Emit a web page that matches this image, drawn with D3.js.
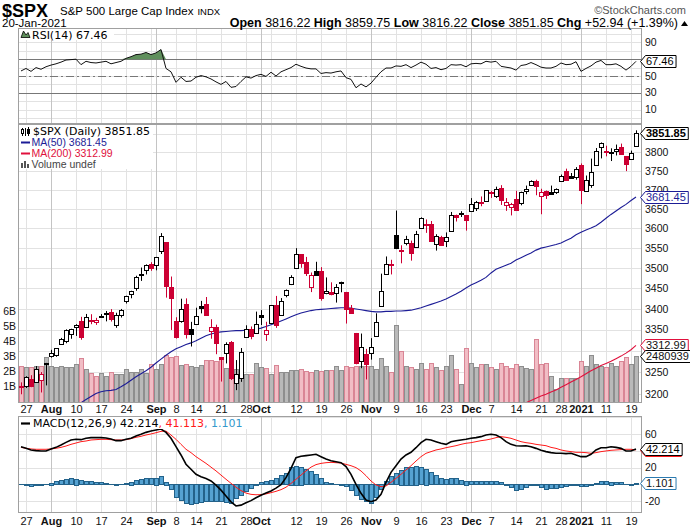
<!DOCTYPE html>
<html><head><meta charset="utf-8">
<script src="https://cdn.jsdelivr.net/npm/d3@7"></script>
<style>body{margin:0;background:#fff}svg{display:block}</style>
</head><body><svg id="c" width="690" height="528"></svg>
<script>
// ---------- DATA ----------
const dates = [
"2020-07-24","2020-07-27","2020-07-28","2020-07-29","2020-07-30","2020-07-31",
"2020-08-03","2020-08-04","2020-08-05","2020-08-06","2020-08-07","2020-08-10","2020-08-11","2020-08-12","2020-08-13","2020-08-14","2020-08-17","2020-08-18","2020-08-19","2020-08-20","2020-08-21","2020-08-24","2020-08-25","2020-08-26","2020-08-27","2020-08-28","2020-08-31",
"2020-09-01","2020-09-02","2020-09-03","2020-09-04","2020-09-08","2020-09-09","2020-09-10","2020-09-11","2020-09-14","2020-09-15","2020-09-16","2020-09-17","2020-09-18","2020-09-21","2020-09-22","2020-09-23","2020-09-24","2020-09-25","2020-09-28","2020-09-29","2020-09-30",
"2020-10-01","2020-10-02","2020-10-05","2020-10-06","2020-10-07","2020-10-08","2020-10-09","2020-10-12","2020-10-13","2020-10-14","2020-10-15","2020-10-16","2020-10-19","2020-10-20","2020-10-21","2020-10-22","2020-10-23","2020-10-26","2020-10-27","2020-10-28","2020-10-29","2020-10-30",
"2020-11-02","2020-11-03","2020-11-04","2020-11-05","2020-11-06","2020-11-09","2020-11-10","2020-11-11","2020-11-12","2020-11-13","2020-11-16","2020-11-17","2020-11-18","2020-11-19","2020-11-20","2020-11-23","2020-11-24","2020-11-25","2020-11-27","2020-11-30",
"2020-12-01","2020-12-02","2020-12-03","2020-12-04","2020-12-07","2020-12-08","2020-12-09","2020-12-10","2020-12-11","2020-12-14","2020-12-15","2020-12-16","2020-12-17","2020-12-18","2020-12-21","2020-12-22","2020-12-23","2020-12-24","2020-12-28","2020-12-29","2020-12-30","2020-12-31",
"2021-01-04","2021-01-05","2021-01-06","2021-01-07","2021-01-08","2021-01-11","2021-01-12","2021-01-13","2021-01-14","2021-01-15","2021-01-19","2021-01-20"];

const opens = [3218.58,3219.84,3234.27,3227.22,3231.76,3270.45,
3288.26,3289.92,3317.37,3323.17,3340.05,3356.04,3370.34,3355.46,3372.95,3368.66,3380.86,3387.04,3392.51,3360.48,3386.01,3418.09,3435.95,3449.97,3485.14,3494.69,3509.73,
3507.44,3543.76,3564.74,3453.60,3371.88,3369.82,3412.56,3352.70,3363.56,3407.73,3411.23,3346.86,3357.38,3285.57,3295.75,3320.11,3226.14,3236.66,3333.90,3350.92,3341.21,
3385.87,3338.94,3367.27,3408.74,3384.56,3434.28,3459.67,3500.02,3534.01,3515.47,3453.72,3493.50,3493.66,3439.38,3439.91,3438.50,3464.90,3441.42,3403.15,3342.48,3277.17,3293.59,
3296.20,3336.25,3406.46,3485.74,3508.34,3583.04,3543.26,3563.22,3562.67,3552.57,3600.16,3610.31,3612.09,3559.41,3579.31,3566.82,3594.52,3635.50,3638.55,3634.18,
3645.87,3653.78,3668.28,3670.94,3694.73,3683.05,3705.98,3659.13,3656.08,3675.27,3666.41,3696.25,3713.65,3722.39,3684.28,3698.08,3693.42,3694.03,3723.03,3750.01,3736.19,3733.27,
3764.61,3698.02,3712.20,3764.71,3815.05,3803.14,3801.62,3802.23,3814.98,3788.73,3781.88,3816.22];
const highs = [3227.26,3241.43,3243.72,3264.74,3250.92,3272.17,
3302.73,3306.84,3330.77,3351.03,3352.54,3363.29,3381.01,3387.89,3387.24,3378.51,3387.59,3395.06,3399.54,3390.80,3399.96,3432.09,3444.21,3481.07,3501.38,3509.23,3514.77,
3528.03,3588.11,3564.85,3479.15,3379.97,3424.77,3425.55,3368.95,3402.93,3419.48,3428.92,3375.17,3362.27,3285.57,3320.31,3323.35,3278.70,3306.88,3360.74,3357.92,3393.56,
3397.18,3369.10,3409.57,3431.56,3426.26,3447.28,3482.34,3549.85,3534.01,3527.94,3489.08,3515.76,3502.42,3476.93,3464.86,3460.53,3466.46,3441.42,3409.51,3342.48,3341.05,3304.93,
3330.14,3389.49,3486.25,3529.05,3520.76,3645.99,3557.22,3581.16,3569.02,3593.66,3628.51,3623.11,3619.09,3585.22,3581.23,3589.81,3642.31,3635.50,3644.31,3634.18,
3678.45,3670.96,3682.73,3699.20,3697.41,3708.45,3712.39,3678.49,3665.91,3697.61,3695.29,3711.27,3725.12,3726.70,3702.90,3698.26,3711.24,3703.82,3740.51,3756.12,3744.63,3760.20,
3769.99,3737.83,3783.04,3811.55,3826.69,3817.86,3810.78,3820.96,3823.60,3788.73,3804.53,3859.75];
const lows = [3200.05,3214.25,3216.17,3227.22,3204.13,3220.26,
3284.53,3286.37,3317.37,3318.14,3328.72,3335.44,3326.44,3355.46,3363.35,3361.64,3379.22,3370.15,3369.66,3354.69,3379.31,3413.13,3425.84,3444.15,3468.35,3484.32,3493.25,
3494.60,3535.23,3427.41,3349.63,3329.27,3366.84,3329.25,3310.47,3363.56,3389.25,3384.45,3328.82,3292.40,3229.10,3270.95,3232.57,3209.45,3228.44,3332.91,3327.54,3340.47,
3361.39,3323.69,3367.27,3354.54,3384.56,3428.15,3458.07,3499.61,3500.86,3480.55,3440.89,3480.45,3419.93,3435.65,3433.06,3415.34,3440.45,3364.86,3388.71,3268.89,3259.82,3233.94,
3279.74,3336.25,3405.17,3485.74,3484.34,3547.48,3511.91,3557.00,3518.58,3552.57,3600.16,3588.68,3567.33,3543.84,3556.85,3552.77,3594.52,3617.76,3629.33,3594.39,
3645.87,3644.84,3657.17,3670.94,3678.88,3678.83,3660.54,3645.18,3633.40,3645.84,3659.62,3688.57,3710.87,3685.84,3636.48,3676.16,3689.28,3689.32,3723.03,3723.31,3730.21,3726.88,
3662.71,3695.07,3705.34,3764.71,3783.60,3789.02,3776.51,3791.50,3792.86,3749.62,3780.37,3816.22];
const closes = [3215.63,3239.41,3218.44,3258.44,3246.22,3271.12,
3294.61,3306.51,3327.77,3349.16,3351.28,3360.47,3333.69,3380.35,3373.43,3372.85,3381.99,3389.78,3374.85,3385.51,3397.16,3431.28,3443.62,3478.73,3484.55,3508.01,3500.31,
3526.65,3580.84,3455.06,3426.96,3331.84,3398.96,3339.19,3340.97,3383.54,3401.20,3385.49,3357.01,3319.47,3281.06,3315.57,3236.92,3246.59,3298.46,3351.60,3335.47,3363.00,
3380.80,3348.42,3408.60,3360.97,3419.44,3446.83,3477.14,3534.22,3511.93,3488.67,3483.34,3483.81,3426.92,3443.12,3435.56,3453.49,3465.39,3400.97,3390.68,3271.03,3310.11,3269.96,
3310.24,3369.16,3443.44,3510.45,3509.44,3550.50,3545.53,3572.66,3537.01,3585.15,3626.91,3609.53,3567.79,3581.87,3557.54,3577.59,3635.41,3629.65,3638.35,3621.63,
3662.45,3669.01,3666.72,3699.12,3691.96,3702.25,3672.82,3668.10,3663.46,3647.49,3694.62,3701.17,3722.48,3709.41,3694.92,3687.26,3690.01,3703.06,3735.36,3727.04,3732.04,3756.07,
3700.65,3726.86,3748.14,3803.79,3824.68,3799.61,3801.19,3809.84,3795.54,3768.25,3798.91,3851.85];
const prevClose = 3235.66;

// volume, billions
const volume = [2.4,2.33,2.33,2.4,2.4,3.0,
2.4,2.33,2.4,2.33,2.33,2.5,2.87,2.2,1.9,1.7,1.9,1.7,2.0,1.8,1.85,2.2,2.0,2.0,2.2,1.9,2.5,
2.2,2.5,3.1,3.0,3.05,2.45,2.5,2.35,2.3,2.45,2.8,2.75,2.7,2.85,2.25,2.25,2.15,2.15,1.85,1.85,2.55,
2.3,2.25,1.8,2.45,2.0,2.0,2.1,2.1,2.2,2.05,2.0,2.1,2.05,2.1,2.1,2.35,2.1,2.4,2.3,2.35,2.4,2.4,
2.35,2.2,2.87,2.35,2.0,5.07,3.4,2.35,2.3,2.15,2.6,2.2,2.55,2.3,2.1,2.4,3.1,2.2,1.2,3.6,
2.6,2.3,2.5,2.5,2.3,2.2,2.6,2.4,2.25,2.5,2.4,2.25,2.15,4.2,2.5,2.6,1.7,0.85,1.6,1.6,1.55,1.6,
2.7,2.35,3.1,2.5,2.35,2.3,2.6,2.35,2.7,2.95,2.5,3.05];

const ma50Start = 12;
const ma50 = [3181,3188,3195,3202,3206,3208,3209,3211,3217,3224,3232,3240,3247,3254,3262,
3272,3281,3290,3298,3305,3310,3315,3319,3324,3330,3336,3340,3343,3345,3346,3347,3348,3348,3349,3349,3351,
3354,3358,3362,3366,3371,3376,3381,3386,3390,3393,3396,3398,3399,3400,3401,3402,3403,3403,3402,3400,3398,3396,
3394,3393,3393,3394,3394,3395,3395,3396,3397,3400,3403,3407,3411,3415,3419,3424,3430,3436,3443,3451,
3458,3464,3470,3477,3488,3497,3502,3507,3512,3520,3526,3532,3538,3545,3550,3553,3556,3559,3563,3569,3575,3584,
3590,3596,3601,3607,3616,3626,3636,3645,3654,3662,3672,3681.45];
const ma200Start = 100;
const ma200 = [3176,3181,3186,3191,3196,3200,3205,3210,3216,3222,3228,3234,
3240,3247,3254,3260,3266,3271,3276,3282,3288,3295,3303,3312.99];

const rsi = [56,59,55.5,60,58,61,
63,64.5,66.5,69,69.5,70,63.5,67.5,66,65.5,66.5,67.5,64.5,66,67.5,71,73,75.5,76,78,75.5,
77.5,81.5,59,55,42.5,48.5,43.5,44,48.5,50.5,49,46.5,43,40,43.5,36.5,37.5,43.5,49,47.5,50.5,
52,49.5,54.5,50,55,57.5,60,64,61.5,59.5,58.5,58.5,53,54,53.5,55,56,48,46,36,40.5,37,
41.5,48.5,55,59.5,59.5,62,61.5,63.5,60,63,66.5,64,59,60,57.5,59,63.5,63,63.5,61,
64.5,65,64.5,67.5,66.5,67.5,61.5,60.5,59.5,57,62.5,63.5,66,63.5,60.5,59.5,59.5,61.5,65.5,63.5,64,67,
55.5,59,62,66.5,68.5,63.5,63.5,64.5,61.5,57,61.5,67.46];

const macd = [44.9,43,41,40.2,39.8,39.8,
42.2,44.1,46.9,50.1,52.9,53.7,53.3,54.9,55.7,55.7,55.7,55.3,54.1,52.1,52.1,53.7,54.9,57.7,59.7,62,63.6,
64.8,66,62,54.9,44.9,35,24,18,12,9,7,4,-1,-7,-14,-21,-25.9,-24.9,-22,-19.5,-16,
-13,-10.5,-8,-4.5,-0.5,7.9,19.1,31.8,33.4,34.2,35,35.8,33,30.2,28.2,27,25.8,21.1,11.9,0,-10.8,-18.7,
-20.7,-18.7,-12,2.3,14.3,22.2,30.2,35,38.2,43.7,49.7,53.7,52.9,50.9,48.9,47.7,50.9,52.1,52.9,53.7,
54.9,55.7,56.9,58.9,59.7,58.9,55.7,50.9,47.7,46.1,45.7,46.1,44.9,42.9,40.6,39,37.8,37,37,36.6,37,35,
33,33,35.8,41,43.7,43.7,44.9,44.1,42.9,39.8,39.8,42.214];
const signal = [44.1,43,42.2,41.8,41.8,41.8,
42.2,43,44.1,45.7,47.7,49.3,50.9,51.7,52.9,53.3,53.7,53.7,53.3,52.9,52.9,53.3,54.5,56.1,57.3,58.9,60.1,
61.6,63.2,63.6,58.8,53.7,47.7,41.8,37.8,33,29,25,20.5,16,11,6,1.2,-3.5,-7.5,-10.5,-12,-12.5,
-12.3,-11.5,-10,-8.4,-6.4,-3.5,1,6,11,16,20.5,23.5,25,25.8,26.2,25.8,25.4,23.8,22.2,19.9,15.9,10.3,
3.9,-0.8,-2.8,-2,2.3,7.1,11.9,17.1,22.2,27.8,33,37,39,41,42.2,43.7,44.9,46.1,47.7,49,
49.7,50.9,52.1,52.9,54.1,55.7,56.9,56.1,54.9,52.9,50.9,49.7,48.9,47.7,46.9,46.1,44.1,42.9,41,39.8,39,38.2,
38.2,37.8,37,37.8,39,39.8,40.6,41,41.4,41.8,41.8,41.113];
const hist = [0.4,-1.6,-2,-1.6,-1.2,0,
2,3.5,5.1,6.3,7.1,6.7,5.1,3.9,3.9,2.3,2.3,1.2,0,-0.8,0,1.2,3.1,4.7,6.3,7.1,7.1,
7.9,9.9,3,-5.6,-15.1,-19.1,-22.7,-23.9,-22.7,-21.5,-19.9,-19.9,-19.9,-20.7,-21.5,-22.7,-16.7,-12.7,-8.8,-4.8,-1.6,
2.3,3.9,5.1,7.1,11.1,13.1,21.1,22.3,21.1,18.3,15.9,11.9,7.1,2.3,1.2,0,-1.6,-2.4,-7.2,-13.1,-17.5,-20.7,
-22.3,-16,-6,3.5,9.5,13.5,17.5,21.1,21.1,22.3,20.7,18.7,14.3,10.7,7.1,6.3,7.1,7.1,5.1,4.3,
3.9,3.9,3.9,3.9,3.9,3.5,2.3,-1.6,-4,-6.8,-5.6,-4,-1.6,-1.6,-3.2,-5.6,-4.8,-4.8,-4,-2.8,-1.6,-1.6,
-2.8,-2.8,-0.8,1.2,3.9,3.9,3.1,2.3,2.3,0,-0.8,1.101];

const priceTicks = [3200,3250,3300,3350,3400,3450,3500,3550,3600,3650,3700,3750,3800,3850];
const priceLabels = [3200,3250,3300,3350,3400,3450,3500,3550,3600,3650,3700,3750,3800];
const volTicks = [1,2,3,4,5,6];
const rsiGrid = [0,10,20,30,40,50,60,70,80,90,100];
const rsiLabels = [90,50,30,10];
const macdGrid = [-20,0,20,40,60,80];
const macdLabels = [-20,20,60];
const xTickDates = ["2020-07-27","2020-08-03","2020-08-10","2020-08-17","2020-08-24","2020-09-01","2020-09-08","2020-09-14","2020-09-21","2020-09-28","2020-10-01","2020-10-12","2020-10-19","2020-10-26","2020-11-02","2020-11-09","2020-11-16","2020-11-23","2020-12-01","2020-12-07","2020-12-14","2020-12-21","2020-12-28","2021-01-04","2021-01-11","2021-01-19"];
const xTickLabels = ["27","Aug","10","17","24","Sep","8","14","21","28","Oct","12","19","26","Nov","9","16","23","Dec","7","14","21","28","2021","11","19"];

// ---------- LAYOUT ----------
const svg = d3.select("#c");
const L = 18, R = 642;
const P = {rsi:[28,124], main:[124,403], macd:[416,513]};
const x = d3.scaleLinear().domain([-0.6, 124.2]).range([L, R]);
const yP = d3.scaleLog().domain([3200, 3800]).range([394.3, 152.3]);
const yV = d3.scaleLinear().domain([0, 6]).range([401.5, 311.5]);
const yR = d3.scaleLinear().domain([0, 100]).range([118, 34]);
const yM = d3.scaleLinear().domain([-20, 60]).range([501.05, 434.05]);
const N = dates.length;
const parse = d3.timeParse("%Y-%m-%d");
const dd = dates.map(parse);
const weekIdx = [], monthIdx = [];
dd.forEach((d, i) => {
  if (i === 0) return;
  const p = dd[i-1];
  if (d.getMonth() !== p.getMonth()) monthIdx.push(i);
  else if (d.getDay() < p.getDay() || (d - p) > 4*864e5) weekIdx.push(i);
});
const FONT = "'Liberation Sans', Arial, sans-serif";
const DFONT = "'DejaVu Sans', Verdana, sans-serif";
const px = v => Math.round(v) + 0.5;

const defs = svg.append("defs");
Object.entries(P).forEach(([k, [t, b]]) => {
  defs.append("clipPath").attr("id", "clip-" + k).append("rect")
    .attr("x", L).attr("y", t).attr("width", R - L).attr("height", b - t);
});

function panelGrid(key, hVals, yS) {
  const [t, b] = P[key];
  const g = svg.append("g");
  g.selectAll(".h").data(hVals).join("line")
    .attr("x1", L).attr("x2", R).attr("y1", d => px(yS(d))).attr("y2", d => px(yS(d)))
    .attr("stroke", "#e2e2e2").attr("stroke-width", 1)
    .attr("clip-path", `url(#clip-${key})`);
  g.selectAll(".w").data(weekIdx).join("line")
    .attr("x1", d => px(x(d))).attr("x2", d => px(x(d))).attr("y1", t).attr("y2", b)
    .attr("stroke", "#e2e2e2");
  g.selectAll(".m").data(monthIdx).join("line")
    .attr("x1", d => px(x(d))).attr("x2", d => px(x(d))).attr("y1", t).attr("y2", b)
    .attr("stroke", "#c4c4c4");
  return g;
}

// ---------- RSI PANEL ----------
panelGrid("rsi", rsiGrid, yR);
const rsiG = svg.append("g").attr("clip-path", "url(#clip-rsi)");
[70, 30].forEach(v => rsiG.append("line").attr("x1", L).attr("x2", R)
  .attr("y1", px(yR(v))).attr("y2", px(yR(v))).attr("stroke", "#777"));
rsiG.append("line").attr("x1", L).attr("x2", R).attr("y1", px(yR(50))).attr("y2", px(yR(50)))
  .attr("stroke", "#777").attr("stroke-dasharray", "8,3,2,3");
rsiG.append("path").datum(rsi)
  .attr("d", d3.area().x((d, i) => x(i)).y0(yR(70)).y1(d => yR(Math.max(d, 70))))
  .attr("fill", "#5f8f5c");
rsiG.append("path").datum(rsi)
  .attr("d", d3.line().x((d, i) => x(i)).y(d => yR(d)))
  .attr("fill", "none").attr("stroke", "#111").attr("stroke-width", 1);

// ---------- MAIN PANEL ----------
panelGrid("main", priceTicks, yP);
const mainG = svg.append("g").attr("clip-path", "url(#clip-main)");
const upDay = i => closes[i] >= (i === 0 ? prevClose : closes[i-1]);
mainG.selectAll(".vol").data(volume).join("rect")
  .attr("x", (d, i) => Math.round(x(i)) - 1.5)
  .attr("y", d => Math.round(yV(d)) + 0.5)
  .attr("width", 4)
  .attr("height", d => Math.max(0, P.main[1] - Math.round(yV(d))))
  .attr("fill", (d, i) => upDay(i) ? "#b9b9b9" : "#f1bdc5")
  .attr("stroke", (d, i) => upDay(i) ? "#8e8e8e" : "#d98595")
  .attr("stroke-width", 1);
mainG.append("path").datum(ma200)
  .attr("d", d3.line().x((d, i) => x(i + ma200Start)).y(d => yP(d)))
  .attr("fill", "none").attr("stroke", "#e0103c").attr("stroke-width", 1.1);
mainG.append("path").datum(ma50)
  .attr("d", d3.line().x((d, i) => x(i + ma50Start)).y(d => yP(d)))
  .attr("fill", "none").attr("stroke", "#1c1c96").attr("stroke-width", 1.1);

const candles = mainG.selectAll(".cd").data(d3.range(N)).join("g");
candles.each(function(i) {
  const g = d3.select(this);
  const col = upDay(i) ? "#000" : "#cc0033";
  const filled = closes[i] < opens[i];
  const cx = Math.round(x(i));
  g.append("line").attr("x1", cx + 0.5).attr("x2", cx + 0.5)
    .attr("y1", yP(highs[i])).attr("y2", yP(lows[i])).attr("stroke", col).attr("stroke-width", 1);
  let top = Math.round(yP(Math.max(opens[i], closes[i])));
  let bot = Math.round(yP(Math.min(opens[i], closes[i])));
  if (bot - top < 1) bot = top + 1;
  g.append("rect").attr("x", cx - 1.5).attr("y", top + 0.5).attr("width", 4).attr("height", bot - top)
    .attr("fill", filled ? col : "#fff").attr("stroke", col).attr("stroke-width", 1);
});

// ---------- MACD PANEL ----------
panelGrid("macd", macdGrid, yM);
const macdG = svg.append("g").attr("clip-path", "url(#clip-macd)");
macdG.selectAll(".hb").data(hist).join("rect")
  .attr("x", (d, i) => Math.round(x(i)) - 1.5)
  .attr("y", d => Math.round(Math.min(yM(d), yM(0))) + 0.5)
  .attr("width", 4)
  .attr("height", d => Math.max(0.01, Math.round(Math.abs(yM(d) - yM(0)))))
  .attr("fill", "#55a2d2").attr("stroke", "#23628a").attr("stroke-width", 1);
macdG.append("path").datum(signal)
  .attr("d", d3.line().x((d, i) => x(i)).y(d => yM(d)))
  .attr("fill", "none").attr("stroke", "#ff1a1a").attr("stroke-width", 1);
macdG.append("path").datum(macd)
  .attr("d", d3.line().x((d, i) => x(i)).y(d => yM(d)))
  .attr("fill", "none").attr("stroke", "#000").attr("stroke-width", 1.6);

// ---------- FRAMES ----------
Object.values(P).forEach(([t, b]) => {
  svg.append("rect").attr("x", L + 0.5).attr("y", t + 0.5).attr("width", R - L - 1).attr("height", b - t - 1)
    .attr("fill", "none").attr("stroke", "#a0a0a0");
});

// ---------- AXES ----------
const rightAxis = (vals, yS) => svg.append("g").selectAll("text").data(vals).join("text")
  .attr("x", 645).attr("y", d => yS(d)).attr("dy", "0.35em")
  .attr("font-family", FONT).attr("font-size", 10.5).attr("fill", "#111").text(d => d);
rightAxis(rsiLabels, yR);
rightAxis(priceLabels, yP);
rightAxis(macdLabels, yM);
svg.append("g").selectAll("text").data(volTicks).join("text")
  .attr("x", 16).attr("y", d => yV(d)).attr("dy", "0.35em").attr("text-anchor", "end")
  .attr("font-family", FONT).attr("font-size", 10.5).attr("fill", "#111").text(d => d + "B");

[413, 525].forEach(by => {
  svg.append("g").selectAll("text").data(xTickDates).join("text")
    .attr("x", d => x(dates.indexOf(d)) + 0.5).attr("y", by).attr("text-anchor", "middle")
    .attr("font-family", FONT).attr("font-size", 11)
    .attr("font-weight", (d, i) => /^[A-Z]|2021/.test(xTickLabels[i]) ? "bold" : "normal")
    .attr("fill", "#111").text((d, i) => xTickLabels[i]);
});

// value tags
function tag(y, txt, stroke, color, bold) {
  const g = svg.append("g");
  const path = g.append("path");
  const t = g.append("text").attr("x", 646).attr("y", y).attr("dy", "0.36em")
    .attr("font-family", FONT).attr("font-size", 11).attr("font-weight", bold ? "bold" : "normal")
    .attr("fill", color).text(txt);
  const w = t.node().getComputedTextLength();
  const yy = Math.round(y) + 0.5, h = 6, x0 = 640.5, x1 = 645.5, x2 = 645.5 + w + 3;
  path.attr("d", `M${x0},${yy}L${x1},${yy-h}L${x2},${yy-h}L${x2},${yy+h}L${x1},${yy+h}Z`)
    .attr("fill", "#fff").attr("stroke", stroke).attr("stroke-width", 1);
}
tag(yR(rsi[N-1]), "67.46", "#000", "#000");
tag(yP(closes[N-1]), "3851.85", "#000", "#000", true);
tag(yP(ma50[ma50.length-1]), "3681.45", "#1c1c96", "#1c1c96");
tag(yP(ma200[ma200.length-1]), "3312.99", "#e0103c", "#111");
tag(yV(volume[N-1]), "2480939", "#000", "#111");
tag(yM(signal[N-1]), "41.113", "#ff1a1a", "#111");
tag(yM(macd[N-1]), "42.214", "#000", "#000");
tag(yM(hist[N-1]), "1.101", "#2a7ab0", "#111");

// ---------- LEGENDS ----------
svg.append("rect").attr("x", 19).attr("y", 29).attr("width", 95).attr("height", 11).attr("fill", "#fff");
svg.append("path").attr("d", "M21,37.5L23.5,31L26,35L28,32.5L30,37.5Z").attr("fill", "#5f8f5c").attr("stroke", "#000").attr("stroke-width", 0.8);
svg.append("text").attr("x", 32).attr("y", 38.5).attr("font-family", DFONT).attr("font-size", 11).attr("fill", "#000").text("RSI(14) 67.46");

svg.append("rect").attr("x", 19).attr("y", 125).attr("width", 134).attr("height", 44).attr("fill", "#fff");
svg.append("path").attr("d", "M22.5,128v8M25.5,128v8M28.5,127v9").attr("stroke", "#000").attr("stroke-width", 1);
svg.append("rect").attr("x", 21.5).attr("y", 129.5).attr("width", 2).attr("height", 4).attr("fill", "#fff").attr("stroke", "#000");
svg.append("rect").attr("x", 27.5).attr("y", 129.5).attr("width", 2).attr("height", 4).attr("fill", "#000").attr("stroke", "#000");
svg.append("text").attr("x", 33).attr("y", 135).attr("font-family", DFONT).attr("font-size", 11).attr("fill", "#000").text("$SPX (Daily) 3851.85");
svg.append("line").attr("x1", 21).attr("x2", 30).attr("y1", 142.5).attr("y2", 142.5).attr("stroke", "#1c1c96").attr("stroke-width", 2);
svg.append("text").attr("x", 31.5).attr("y", 146).attr("font-family", FONT).attr("font-size", 10.5).attr("fill", "#1c1c96").text("MA(50) 3681.45");
svg.append("line").attr("x1", 21).attr("x2", 30).attr("y1", 153.5).attr("y2", 153.5).attr("stroke", "#e0103c").attr("stroke-width", 2);
svg.append("text").attr("x", 31.5).attr("y", 157).attr("font-family", FONT).attr("font-size", 10.5).attr("fill", "#e0103c").text("MA(200) 3312.99");
svg.append("path").attr("d", "M21,168v-5h2v5M24,168v-7h2v7M27,168v-4h2v4").attr("fill", "#555");
svg.append("text").attr("x", 31.5).attr("y", 168).attr("font-family", FONT).attr("font-size", 10.5).attr("fill", "#444").text("Volume undef");

svg.append("rect").attr("x", 19).attr("y", 417).attr("width", 230).attr("height", 12).attr("fill", "#fff");
svg.append("line").attr("x1", 21).attr("x2", 30).attr("y1", 423.5).attr("y2", 423.5).attr("stroke", "#000").attr("stroke-width", 2.2);
const mt = svg.append("text").attr("x", 33).attr("y", 427).attr("font-family", DFONT).attr("font-size", 11);
mt.append("tspan").attr("fill", "#000").text("MACD(12,26,9) 42.214");
mt.append("tspan").attr("fill", "#ff1a1a").text(", 41.113");
mt.append("tspan").attr("fill", "#3399cc").text(", 1.101");

// ---------- HEADER ----------
svg.append("text").attr("x", 2).attr("y", 17).attr("font-family", FONT).attr("font-size", 18).attr("font-weight", "bold").attr("fill", "#000").text("$SPX");
const nameT = svg.append("text").attr("x", 60).attr("y", 15).attr("font-family", FONT).attr("font-size", 11.5).attr("fill", "#000").text("S&P 500 Large Cap Index");
const nameW = nameT.node().getComputedTextLength();
svg.append("text").attr("x", 60 + nameW + 4).attr("y", 15).attr("font-family", FONT).attr("font-size", 9.5).attr("fill", "#000").text("INDX");
svg.append("text").attr("x", 686).attr("y", 14).attr("text-anchor", "end").attr("font-family", FONT).attr("font-size", 11).attr("fill", "#555").text("\u00A9StockCharts.com");
svg.append("text").attr("x", 2).attr("y", 27).attr("font-family", FONT).attr("font-size", 11.5).attr("fill", "#000").text("20-Jan-2021");
const hd = svg.append("text").attr("x", 678).attr("y", 27).attr("text-anchor", "end").attr("font-family", FONT).attr("font-size", 12.5).attr("fill", "#000");
[["Open", true], [" 3816.22 ", false], ["High", true], [" 3859.75 ", false], ["Low", true], [" 3816.22 ", false],
 ["Close", true], [" 3851.85 ", false], ["Chg", true], [" +52.94 (+1.39%)", false]].forEach(([t, b]) =>
  hd.append("tspan").attr("font-weight", b ? "bold" : "normal").text(t));
svg.append("path").attr("d", "M681,26L684.5,21L688,26Z").attr("fill", "#000");
</script></body></html>
